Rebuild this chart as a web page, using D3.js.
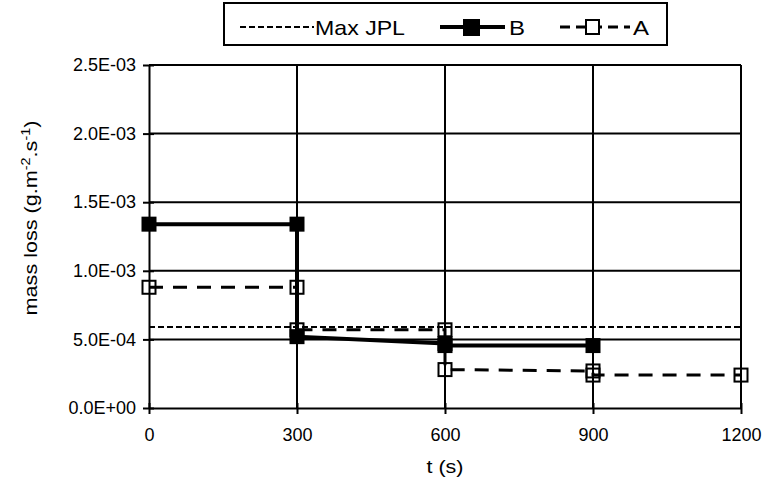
<!DOCTYPE html>
<html>
<head>
<meta charset="utf-8">
<script src="https://cdn.jsdelivr.net/npm/d3@7"></script>
<style>
  body { margin: 0; background: #fff; }
  svg { font-family: "Liberation Sans", Arial, sans-serif; }
</style>
</head>
<body>
<svg id="chart" width="766" height="484"></svg>
<script>
// data
const xTicks = [0, 300, 600, 900, 1200]
const xTickLabels = ["0", "300", "600", "900", "1200"]
const yTicks = [0, 0.0005, 0.001, 0.0015, 0.002, 0.0025]
const yTickLabels = ["0.0E+00", "5.0E-04", "1.0E-03", "1.5E-03", "2.0E-03", "2.5E-03"]

const maxJPL = [[0, 0.00059], [1200, 0.00059]]
const seriesB = [[0, 0.00134], [300, 0.00134], [300, 0.00052], [600, 0.00047], [600, 0.000455], [900, 0.000455]]
const seriesA = [[0, 0.00088], [300, 0.00088], [300, 0.00057], [600, 0.00057], [600, 0.00028], [900, 0.00027], [900, 0.00024], [1200, 0.00024]]

const margin = { top: 65, right: 25, bottom: 76, left: 149 }
const width = 766, height = 484

const svg = d3.select("#chart")

const x = d3.scaleLinear().domain([0, 1200]).range([margin.left, width - margin.right])
const y = d3.scaleLinear().domain([0, 0.0025]).range([height - margin.bottom, margin.top])

// gridlines
svg.append("g")
  .selectAll("line")
  .data(yTicks.slice(1))
  .join("line")
  .attr("x1", x(0)).attr("x2", x(1200))
  .attr("y1", d => y(d)).attr("y2", d => y(d))
  .attr("stroke", "#000").attr("stroke-width", 2)

svg.append("g")
  .selectAll("line")
  .data(xTicks.slice(1))
  .join("line")
  .attr("x1", d => x(d)).attr("x2", d => x(d))
  .attr("y1", y(0)).attr("y2", y(0.0025))
  .attr("stroke", "#000").attr("stroke-width", 2)

// axes
const yAxis = d3.axisLeft(y).tickValues(yTicks)
  .tickFormat((d, i) => yTickLabels[i]).tickSizeInner(6).tickSizeOuter(0).tickPadding(7)
const xAxis = d3.axisBottom(x).tickValues(xTicks)
  .tickFormat((d, i) => xTickLabels[i]).tickSizeInner(6).tickSizeOuter(0).tickPadding(14)

const gy = svg.append("g").attr("transform", `translate(${x(0)},0)`).call(yAxis)
const gx = svg.append("g").attr("transform", `translate(0,${y(0)})`).call(xAxis)

;[gx, gy].forEach(g => {
  g.attr("font-size", null).attr("font-family", null)
  g.select(".domain").attr("stroke", "#000").attr("stroke-width", 2)
  g.selectAll(".tick line").attr("stroke", "#000").attr("stroke-width", 2)
  g.selectAll("text").attr("fill", "#000").attr("font-size", 18)
})
// ticks cross the axis
gy.selectAll(".tick line").attr("x1", 5)
gx.selectAll(".tick line").attr("y1", -5)

// axis titles
svg.append("text")
  .attr("x", x(600)).attr("y", 473)
  .attr("text-anchor", "middle")
  .attr("font-size", 19)
  .attr("textLength", 37).attr("lengthAdjust", "spacingAndGlyphs")
  .text("t (s)")

const yt = svg.append("text")
  .attr("transform", "translate(37,218) rotate(-90) scale(1.2,1)")
  .attr("text-anchor", "middle")
  .attr("font-size", 18)
yt.append("tspan").text("mass loss (g.m")
yt.append("tspan").attr("dy", -7).attr("font-size", 12).text("-2")
yt.append("tspan").attr("dy", 7).text(".s")
yt.append("tspan").attr("dy", -7).attr("font-size", 12).text("-1")
yt.append("tspan").attr("dy", 7).text(")")

const line = d3.line().x(d => x(d[0])).y(d => y(d[1]))

// Max JPL
svg.append("path").datum(maxJPL)
  .attr("d", line).attr("fill", "none")
  .attr("stroke", "#000").attr("stroke-width", 2).attr("stroke-dasharray", "6,3")

// A
svg.append("path").datum(seriesA)
  .attr("d", line).attr("fill", "none")
  .attr("stroke", "#000").attr("stroke-width", 3).attr("stroke-dasharray", "14,10")

// B
svg.append("path").datum(seriesB)
  .attr("d", line).attr("fill", "none")
  .attr("stroke", "#000").attr("stroke-width", 4)

const ms = 15
svg.append("g").selectAll("rect")
  .data(seriesA)
  .join("rect")
  .attr("x", d => x(d[0]) - ms / 2 + 1).attr("y", d => y(d[1]) - ms / 2 + 1)
  .attr("width", ms - 2).attr("height", ms - 2)
  .attr("fill", "none").attr("stroke", "#000").attr("stroke-width", 2)

svg.append("g").selectAll("rect")
  .data(seriesB)
  .join("rect")
  .attr("x", d => x(d[0]) - ms / 2).attr("y", d => y(d[1]) - ms / 2)
  .attr("width", ms).attr("height", ms)
  .attr("fill", "#000")

// legend
const lg = svg.append("g")
lg.append("rect")
  .attr("x", 224).attr("y", 3).attr("width", 443).attr("height", 42)
  .attr("fill", "#fff").attr("stroke", "#000").attr("stroke-width", 2)

const ly = 27
lg.append("line").attr("x1", 240).attr("x2", 314).attr("y1", ly).attr("y2", ly)
  .attr("stroke", "#000").attr("stroke-width", 2).attr("stroke-dasharray", "6,3")
lg.append("text").attr("x", 315).attr("y", 35).attr("font-size", 21)
  .attr("textLength", 90).attr("lengthAdjust", "spacingAndGlyphs").text("Max JPL")

lg.append("line").attr("x1", 440).attr("x2", 505).attr("y1", ly).attr("y2", ly)
  .attr("stroke", "#000").attr("stroke-width", 4)
lg.append("rect").attr("x", 463).attr("y", ly - 8).attr("width", 17).attr("height", 17).attr("fill", "#000")
lg.append("text").attr("x", 509).attr("y", 35).attr("font-size", 21)
  .attr("textLength", 16).attr("lengthAdjust", "spacingAndGlyphs").text("B")

lg.append("line").attr("x1", 560).attr("x2", 630).attr("y1", ly).attr("y2", ly)
  .attr("stroke", "#000").attr("stroke-width", 3).attr("stroke-dasharray", "10,6")
lg.append("rect").attr("x", 586).attr("y", ly - 7).attr("width", 13).attr("height", 14)
  .attr("fill", "#fff").attr("stroke", "#000").attr("stroke-width", 2)
lg.append("text").attr("x", 633).attr("y", 35).attr("font-size", 21)
  .attr("textLength", 16).attr("lengthAdjust", "spacingAndGlyphs").text("A")
</script>
</body>
</html>
